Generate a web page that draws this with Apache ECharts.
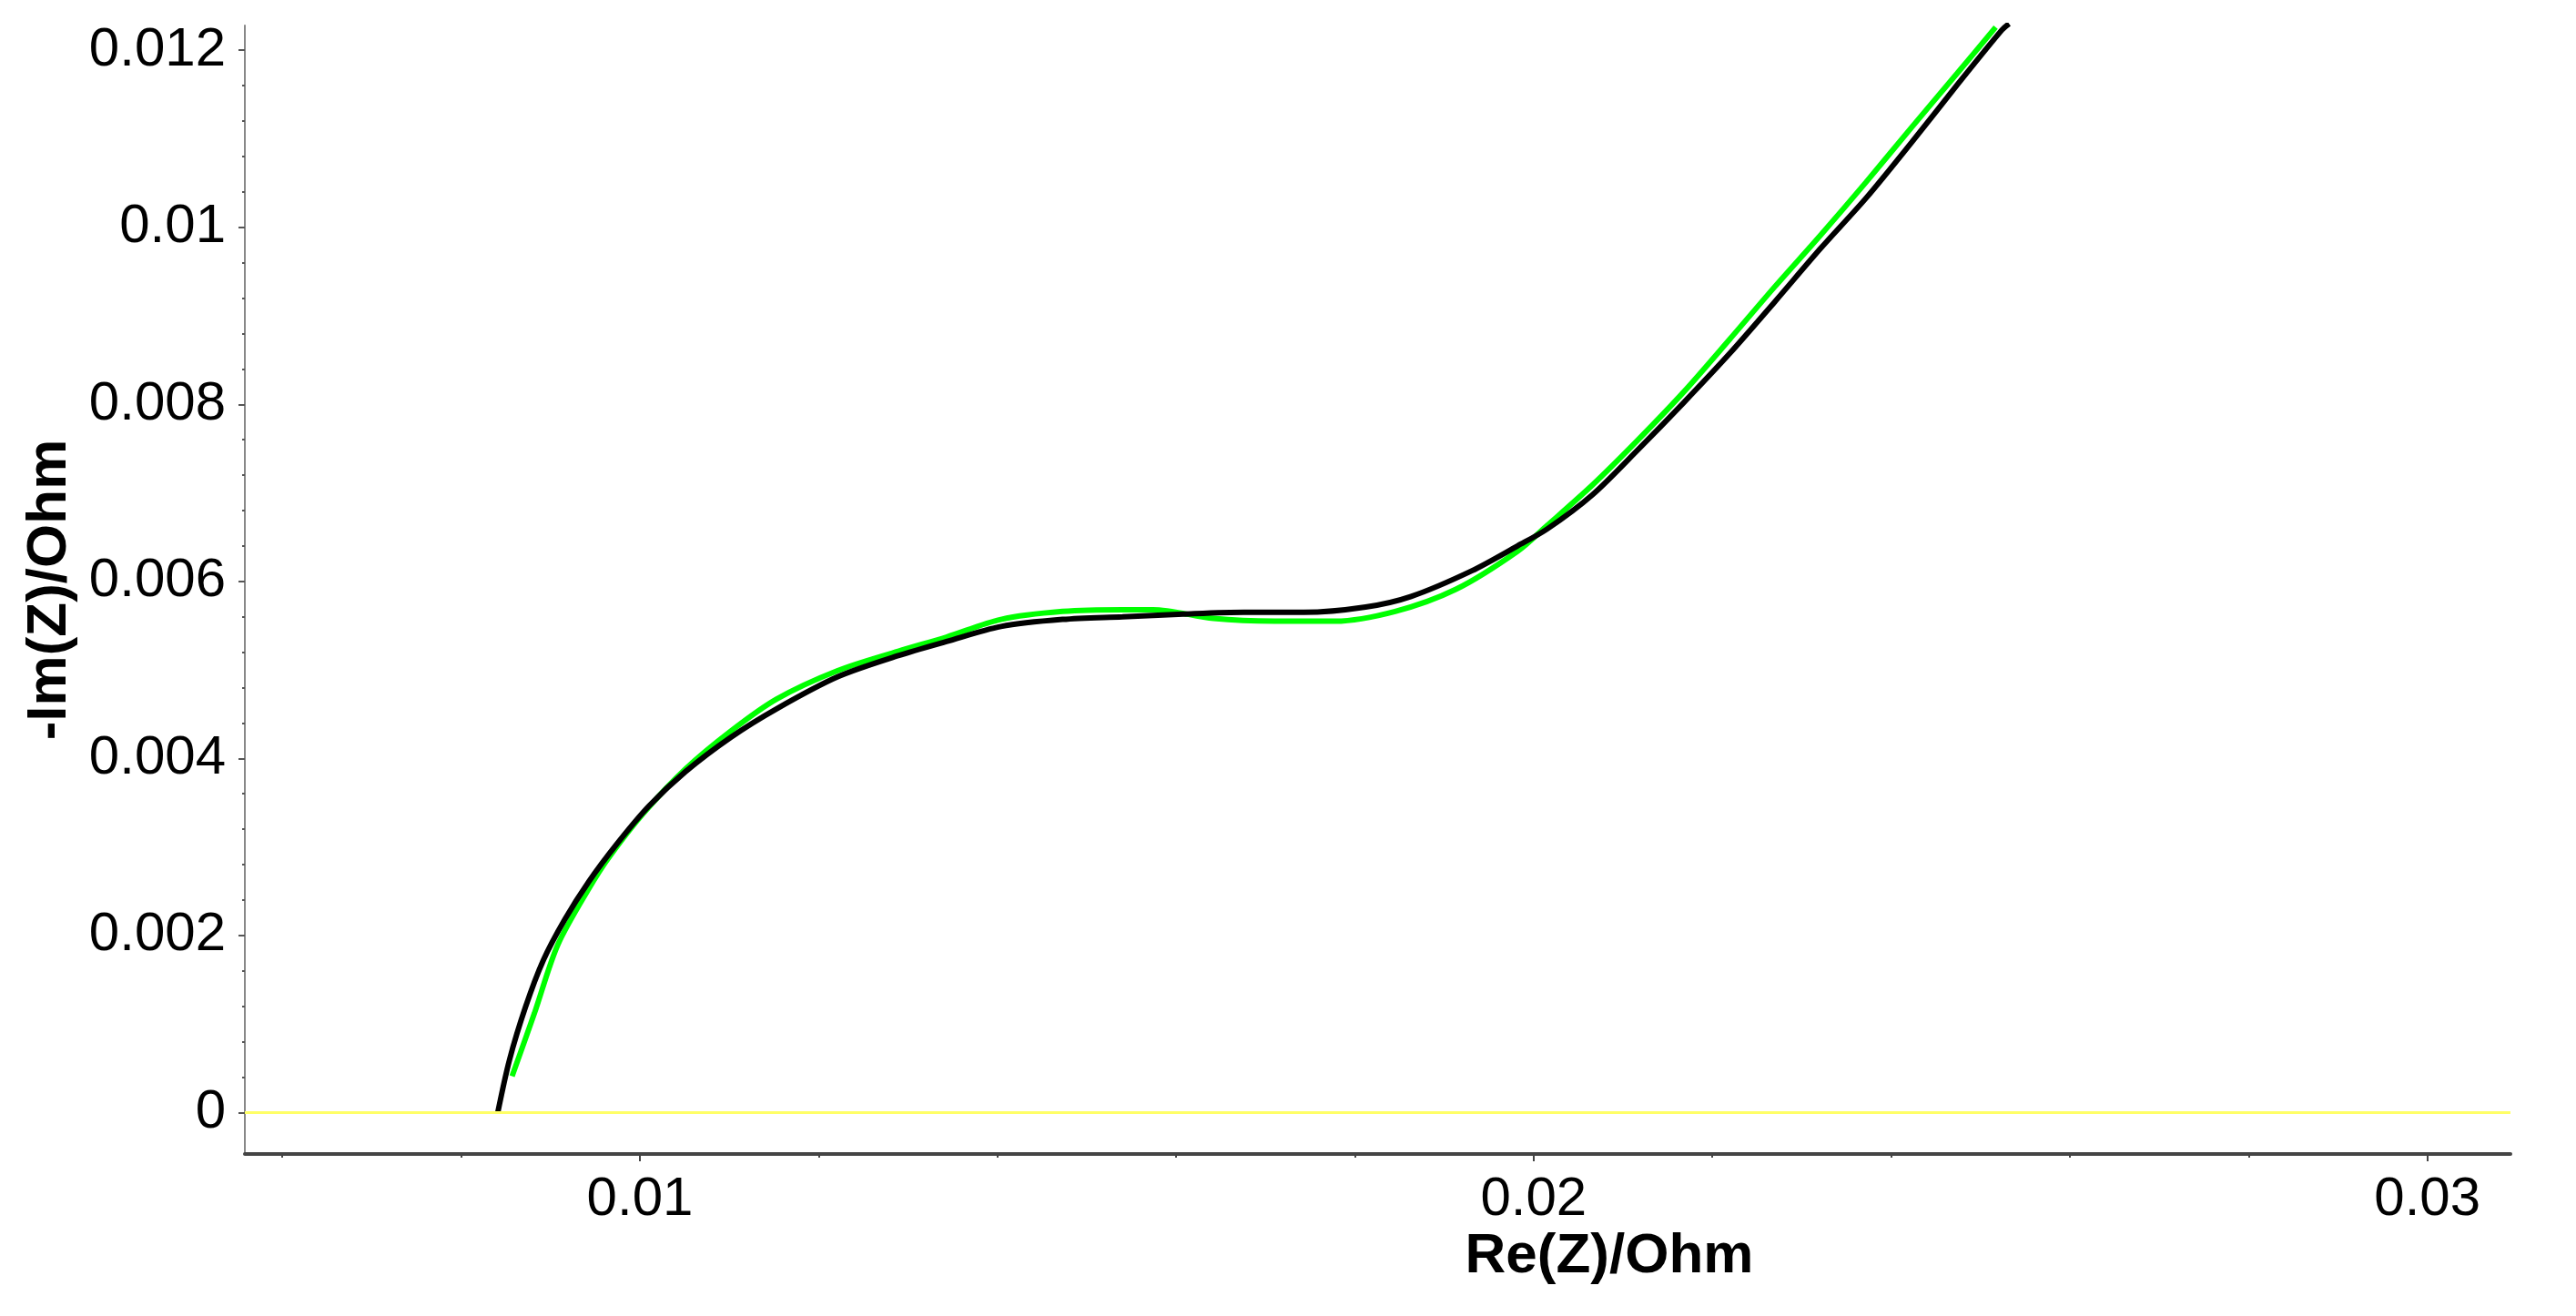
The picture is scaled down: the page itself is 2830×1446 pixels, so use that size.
<!DOCTYPE html>
<html>
<head>
<meta charset="utf-8">
<title>Nyquist</title>
<script src="https://cdn.jsdelivr.net/npm/echarts@6.0.0/dist/echarts.min.js"></script>
<style>
  html, body { margin: 0; padding: 0; background: #fff; }
  #chart { width: 2830px; height: 1446px; }
</style>
</head>
<body>
<div id="chart"></div>
<script>
// measured curve (black) Re(Z), -Im(Z) in Ohm
var measRe = [0.00841, 0.00854, 0.00872, 0.00892, 0.00916, 0.00943, 0.00974, 0.01010, 0.01051, 0.01102,
  0.01153, 0.01221, 0.01289, 0.01343, 0.01404, 0.01473, 0.01540, 0.01608, 0.01676, 0.01743,
  0.01812, 0.01863, 0.01931, 0.01982, 0.02015, 0.02066, 0.02117, 0.02168, 0.02219, 0.02270,
  0.02321, 0.02372, 0.02423, 0.02474, 0.02524, 0.02532]
var measIm = [0.00000, 0.00059, 0.00119, 0.00172, 0.00218, 0.00261, 0.00303, 0.00346, 0.00385, 0.00424,
  0.00456, 0.00492, 0.00516, 0.00532, 0.00549, 0.00557, 0.00560, 0.00563, 0.00565, 0.00565,
  0.00571, 0.00583, 0.00612, 0.00640, 0.00659, 0.00698, 0.00749, 0.00802, 0.00857, 0.00916,
  0.00976, 0.01033, 0.01096, 0.01161, 0.01223, 0.01230]
// fitted curve (green)
var fitRe = [0.00857, 0.00882, 0.00908, 0.00943, 0.00966, 0.01004, 0.01051, 0.01102, 0.01153, 0.01221,
  0.01289, 0.01343, 0.01404, 0.01473, 0.01540, 0.01574, 0.01642, 0.01710, 0.01778, 0.01845,
  0.01913, 0.01982, 0.02015, 0.02066, 0.02117, 0.02168, 0.02219, 0.02270, 0.02321, 0.02372,
  0.02423, 0.02474, 0.02517]
var fitIm = [0.00041, 0.00112, 0.00189, 0.00253, 0.00289, 0.00338, 0.00388, 0.00431, 0.00467, 0.00499,
  0.00521, 0.00537, 0.00557, 0.00566, 0.00568, 0.00568, 0.00558, 0.00555, 0.00555, 0.00566,
  0.00591, 0.00634, 0.00663, 0.00709, 0.00760, 0.00814, 0.00873, 0.00933, 0.00991, 0.01051,
  0.01113, 0.01174, 0.01226]
// axis ticks
var xLabels = [0.01, 0.02, 0.03]
var xMinor = [0.006, 0.008, 0.010, 0.012, 0.014, 0.016, 0.018, 0.020, 0.022, 0.024, 0.026, 0.028, 0.030]
var yLabels = [0, 0.002, 0.004, 0.006, 0.008, 0.01, 0.012]
var yMinor = [0, 0.0004, 0.0008, 0.0012, 0.0016, 0.002, 0.0024, 0.0028, 0.0032, 0.0036, 0.004,
  0.0044, 0.0048, 0.0052, 0.0056, 0.006, 0.0064, 0.0068, 0.0072, 0.0076, 0.008, 0.0084, 0.0088,
  0.0092, 0.0096, 0.01, 0.0104, 0.0108, 0.0112, 0.0116, 0.012]

var FONT = "'Liberation Sans', Arial, sans-serif"

function pairs (xs, ys) {
  return xs.map(function (x, i) { return [x, ys[i]] })
}
function fmt (v) {
  return String(+v.toFixed(4))
}

var chart = echarts.init(document.getElementById('chart'))
var xRange = { min: 0.00558, max: 0.03093 }
var yRange = { min: -0.00047, max: 0.01228 }

chart.setOption({
  animation: false,
  backgroundColor: '#fff',
  grid: { left: 269, right: 72, top: 28, bottom: 178 },
  xAxis: [
    {
      type: 'value', min: xRange.min, max: xRange.max,
      splitLine: { show: false },
      axisLine: { onZero: false, lineStyle: { color: '#444', width: 4 } },
      axisTick: { customValues: xMinor, length: 4, lineStyle: { color: '#444', width: 2 } },
      axisLabel: { customValues: xLabels, formatter: fmt, fontSize: 60, fontFamily: FONT, color: '#000', margin: 20 }
    },
    {
      // longer major ticks
      type: 'value', min: xRange.min, max: xRange.max, position: 'bottom',
      splitLine: { show: false }, axisLine: { show: false, onZero: false }, axisLabel: { show: false },
      axisTick: { customValues: xLabels, length: 8, lineStyle: { color: '#444', width: 2 } }
    }
  ],
  yAxis: [
    {
      type: 'value', min: yRange.min, max: yRange.max,
      splitLine: { show: false },
      axisLine: { show: true, onZero: false, lineStyle: { color: '#888', width: 2 } },
      axisTick: { customValues: yMinor, length: 3, lineStyle: { color: '#555', width: 2 } },
      axisLabel: { customValues: yLabels, formatter: fmt, fontSize: 60, fontFamily: FONT, color: '#000', margin: 21 }
    },
    {
      type: 'value', min: yRange.min, max: yRange.max, position: 'left',
      splitLine: { show: false }, axisLine: { show: false, onZero: false }, axisLabel: { show: false },
      axisTick: { customValues: yLabels, length: 7, lineStyle: { color: '#555', width: 2 } }
    }
  ],
  graphic: [
    {
      type: 'text', x: 1768, y: 1381,
      style: { text: 'Re(Z)/Ohm', font: 'bold 62px ' + FONT, fill: '#000', align: 'center', verticalAlign: 'middle' }
    },
    {
      type: 'text', x: 55, y: 648, rotation: Math.PI / 2,
      style: { text: '-Im(Z)/Ohm', font: 'bold 62px ' + FONT, fill: '#000', align: 'center', verticalAlign: 'middle' }
    }
  ],
  series: [
    {
      name: 'fit',
      type: 'line',
      data: pairs(fitRe, fitIm),
      showSymbol: false,
      smooth: 0.3,
      lineStyle: { color: '#00ff00', width: 6 },
      markLine: {
        silent: true,
        symbol: 'none',
        label: { show: false },
        lineStyle: { color: '#ffff66', width: 3, type: 'solid' },
        data: [{ yAxis: 0 }]
      },
      z: 2
    },
    {
      name: 'measured',
      type: 'line',
      data: pairs(measRe, measIm),
      showSymbol: false,
      smooth: 0.3,
      lineStyle: { color: '#000', width: 6 },
      z: 3
    }
  ]
})
</script>
</body>
</html>
